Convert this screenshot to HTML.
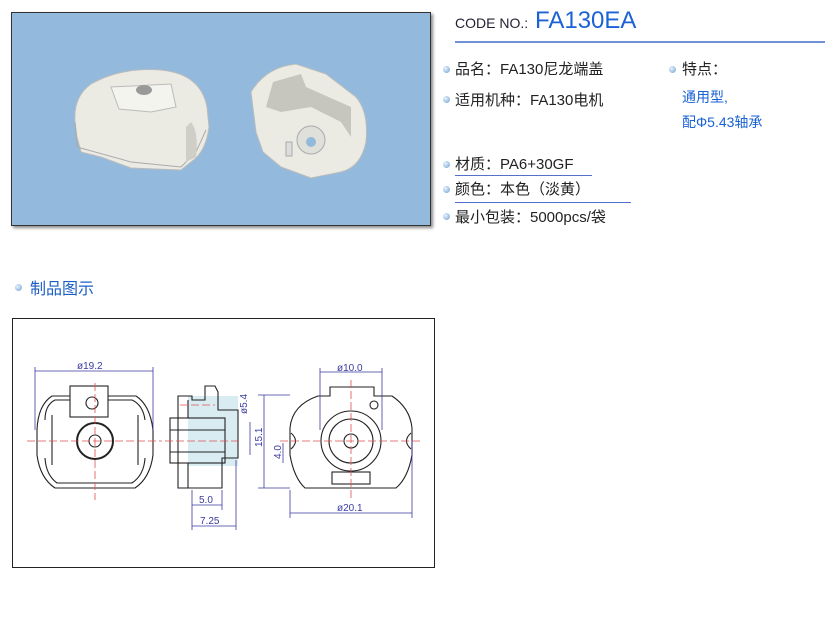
<!DOCTYPE html>
<html><head><meta charset="utf-8"><style>
body{margin:0;width:825px;height:618px;background:#fff;position:relative;overflow:hidden;font-family:"Liberation Sans","Noto Sans CJK SC",sans-serif;}
.a{position:absolute;white-space:nowrap}
.t{font-size:15px;color:#222}
.b{position:absolute;width:7px;height:7px;border-radius:50%;background:radial-gradient(circle at 35% 35%,#e8f3ff,#6d9fd0)}
.blue{color:#1b62d6;font-size:14px}
</style></head><body>
<div class="a" style="left:11px;top:12px;width:418px;height:212px;background:#93badd;border:1px solid #333;box-shadow:2px 2px 3px #888"></div>
<svg class="a" style="left:11px;top:12px" width="420" height="214">
<path d="M64 110 Q62 85 80 72 Q110 55 150 58 Q190 62 196 95 L198 115 Q195 140 180 150 L170 158 L120 156 L90 145 L70 140 L66 125 Z" fill="#ebebe4" stroke="#bbb"/>
<path d="M64 110 L66 135 L120 150 L170 155 L185 140 L195 118" fill="none" stroke="#aaa"/>
<path d="M100 75 L160 72 L165 95 L140 100 L108 97 Z" fill="#f4f4ef" stroke="#bbb"/>
<ellipse cx="133" cy="78" rx="8" ry="5" fill="#999"/>
<path d="M180 110 Q188 120 185 145 L175 150 L175 115 Z" fill="#cfcfc7"/>
<path d="M240 80 Q255 55 285 52 L315 62 L345 85 Q358 100 355 130 Q350 155 330 160 L300 166 L270 155 L252 140 L245 120 Z" fill="#ebebe4" stroke="#bbb"/>
<path d="M255 95 L262 70 L290 62 L295 75 L340 95 L340 125 L330 110 L300 95 L270 100 Z" fill="#c6c6be"/>
<circle cx="300" cy="128" r="14" fill="#e0e0da" stroke="#aaa"/><circle cx="300" cy="130" r="5" fill="#93badd"/>
<rect x="275" y="130" width="6" height="14" fill="#ddd" stroke="#aaa"/>
</svg>
<div class="a" style="left:455px;top:15px;font-size:14px;color:#223">CODE NO.:</div>
<div class="a" style="left:535px;top:7px;font-size:24px;color:#1b62d6">FA130EA</div>
<div class="a" style="left:455px;top:41px;width:370px;height:2px;background:#7090d8"></div>
<div class="b" style="left:443px;top:66px"></div><div class="a t" style="left:455px;top:58px">品名：FA130尼龙端盖</div>
<div class="b" style="left:443px;top:96px"></div><div class="a t" style="left:455px;top:89px">适用机种：FA130电机</div>
<div class="b" style="left:669px;top:66px"></div><div class="a t" style="left:682px;top:58px">特点：</div>
<div class="a blue" style="left:682px;top:87px">通用型,</div>
<div class="a blue" style="left:682px;top:112px">配Φ5.43轴承</div>
<div class="b" style="left:443px;top:161px"></div><div class="a t" style="left:455px;top:153px">材质：PA6+30GF</div>
<div class="a" style="left:455px;top:175px;width:137px;height:1px;background:#5570c8"></div>
<div class="b" style="left:443px;top:186px"></div><div class="a t" style="left:455px;top:178px">颜色：本色（淡黄）</div>
<div class="a" style="left:455px;top:202px;width:176px;height:1px;background:#5570c8"></div>
<div class="b" style="left:443px;top:213px"></div><div class="a t" style="left:455px;top:206px">最小包装：5000pcs/袋</div>
<div class="b" style="left:15px;top:284px"></div><div class="a" style="left:30px;top:275px;font-size:16px;color:#1b5fc6">制品图示</div>
<div class="a" style="left:12px;top:318px;width:421px;height:248px;border:1px solid #222"></div>
<svg class="a" style="left:0;top:0" width="825" height="618" font-family="Liberation Sans" font-size="10" fill="none">
<rect x="188" y="396" width="50" height="70" fill="#d8ecf2"/>
<g stroke="#222" stroke-width="1.1">
<path d="M70 396 L52 396 Q38 405 37 430 L37 455 Q40 478 55 488 L135 488 Q150 478 153 455 L153 430 Q150 405 136 396 L108 396"/>
<path d="M45 420 Q45 405 55 400 L70 400 M108 400 L132 400 Q143 405 145 420 M45 458 Q46 475 57 483 L132 483 Q144 475 145 458"/>
<path d="M52 415 L52 465 M138 415 L138 465"/>
<rect x="70" y="386" width="38" height="31"/>
<circle cx="95" cy="441" r="18" stroke-width="2"/><circle cx="95" cy="441" r="6"/>
<circle cx="92" cy="403" r="6"/>
<path d="M178 396 L192 396 L192 400 L205 400 L205 386 L215 386 L218 392 L218 410 L238 410 L238 458 L222 458 L222 488 L178 488 Z"/>
<path d="M188 400 L188 418 M188 463 L188 488"/>
<rect x="170" y="418" width="55" height="45"/>
<path d="M170 430 L225 430 M170 452 L225 452"/>
<path d="M290 428 Q292 405 318 396 L330 396 L330 387 L374 387 L374 396 L392 396 Q410 408 412 428 L412 455 Q408 478 396 488 L305 488 Q294 478 290 455 Z"/>
<circle cx="351" cy="441" r="30"/><circle cx="351" cy="441" r="22"/><circle cx="351" cy="441" r="7"/>
<rect x="332" y="472" width="38" height="12"/>
<circle cx="374" cy="405" r="4"/>
<path d="M291 433 Q300 441 291 449 M411 433 Q402 441 411 449"/>
</g>
<g stroke="#e05050" stroke-width=".8" stroke-dasharray="8 3">
<line x1="27" y1="441" x2="162" y2="441"/><line x1="95" y1="383" x2="95" y2="500"/>
<line x1="165" y1="441" x2="240" y2="441"/><line x1="280" y1="441" x2="420" y2="441"/><line x1="351" y1="380" x2="351" y2="500"/>
<line x1="180" y1="405" x2="215" y2="405"/>
</g>
<g stroke="#3a3aa0" stroke-width=".8">
<line x1="35" y1="371" x2="153" y2="371"/><line x1="35" y1="367" x2="35" y2="430"/><line x1="153" y1="367" x2="153" y2="430"/>
<line x1="320" y1="372" x2="382" y2="372"/><line x1="320" y1="368" x2="320" y2="430"/><line x1="382" y1="368" x2="382" y2="430"/>
<line x1="264" y1="395" x2="264" y2="488"/><line x1="258" y1="395" x2="290" y2="395"/><line x1="258" y1="488" x2="290" y2="488"/>
<line x1="283" y1="443" x2="283" y2="463"/>
<line x1="250" y1="422" x2="250" y2="455"/>
<line x1="290" y1="513" x2="412" y2="513"/><line x1="290" y1="490" x2="290" y2="518"/><line x1="412" y1="440" x2="412" y2="518"/>
<line x1="192" y1="505" x2="222" y2="505"/><line x1="192" y1="490" x2="192" y2="530"/><line x1="222" y1="490" x2="222" y2="510"/>
<line x1="192" y1="526" x2="236" y2="526"/><line x1="236" y1="460" x2="236" y2="530"/>
</g>
<g fill="#3a3aa0" font-size="10">
<text x="77" y="369">ø19.2</text><text x="337" y="371">ø10.0</text><text x="337" y="511">ø20.1</text>
<text x="199" y="503">5.0</text><text x="200" y="524">7.25</text>
<text transform="translate(262,447) rotate(-90)">15.1</text>
<text transform="translate(281,459) rotate(-90)">4.0</text>
<text transform="translate(247,414) rotate(-90)">ø5.4</text>
</g>
</svg>
</body></html>
